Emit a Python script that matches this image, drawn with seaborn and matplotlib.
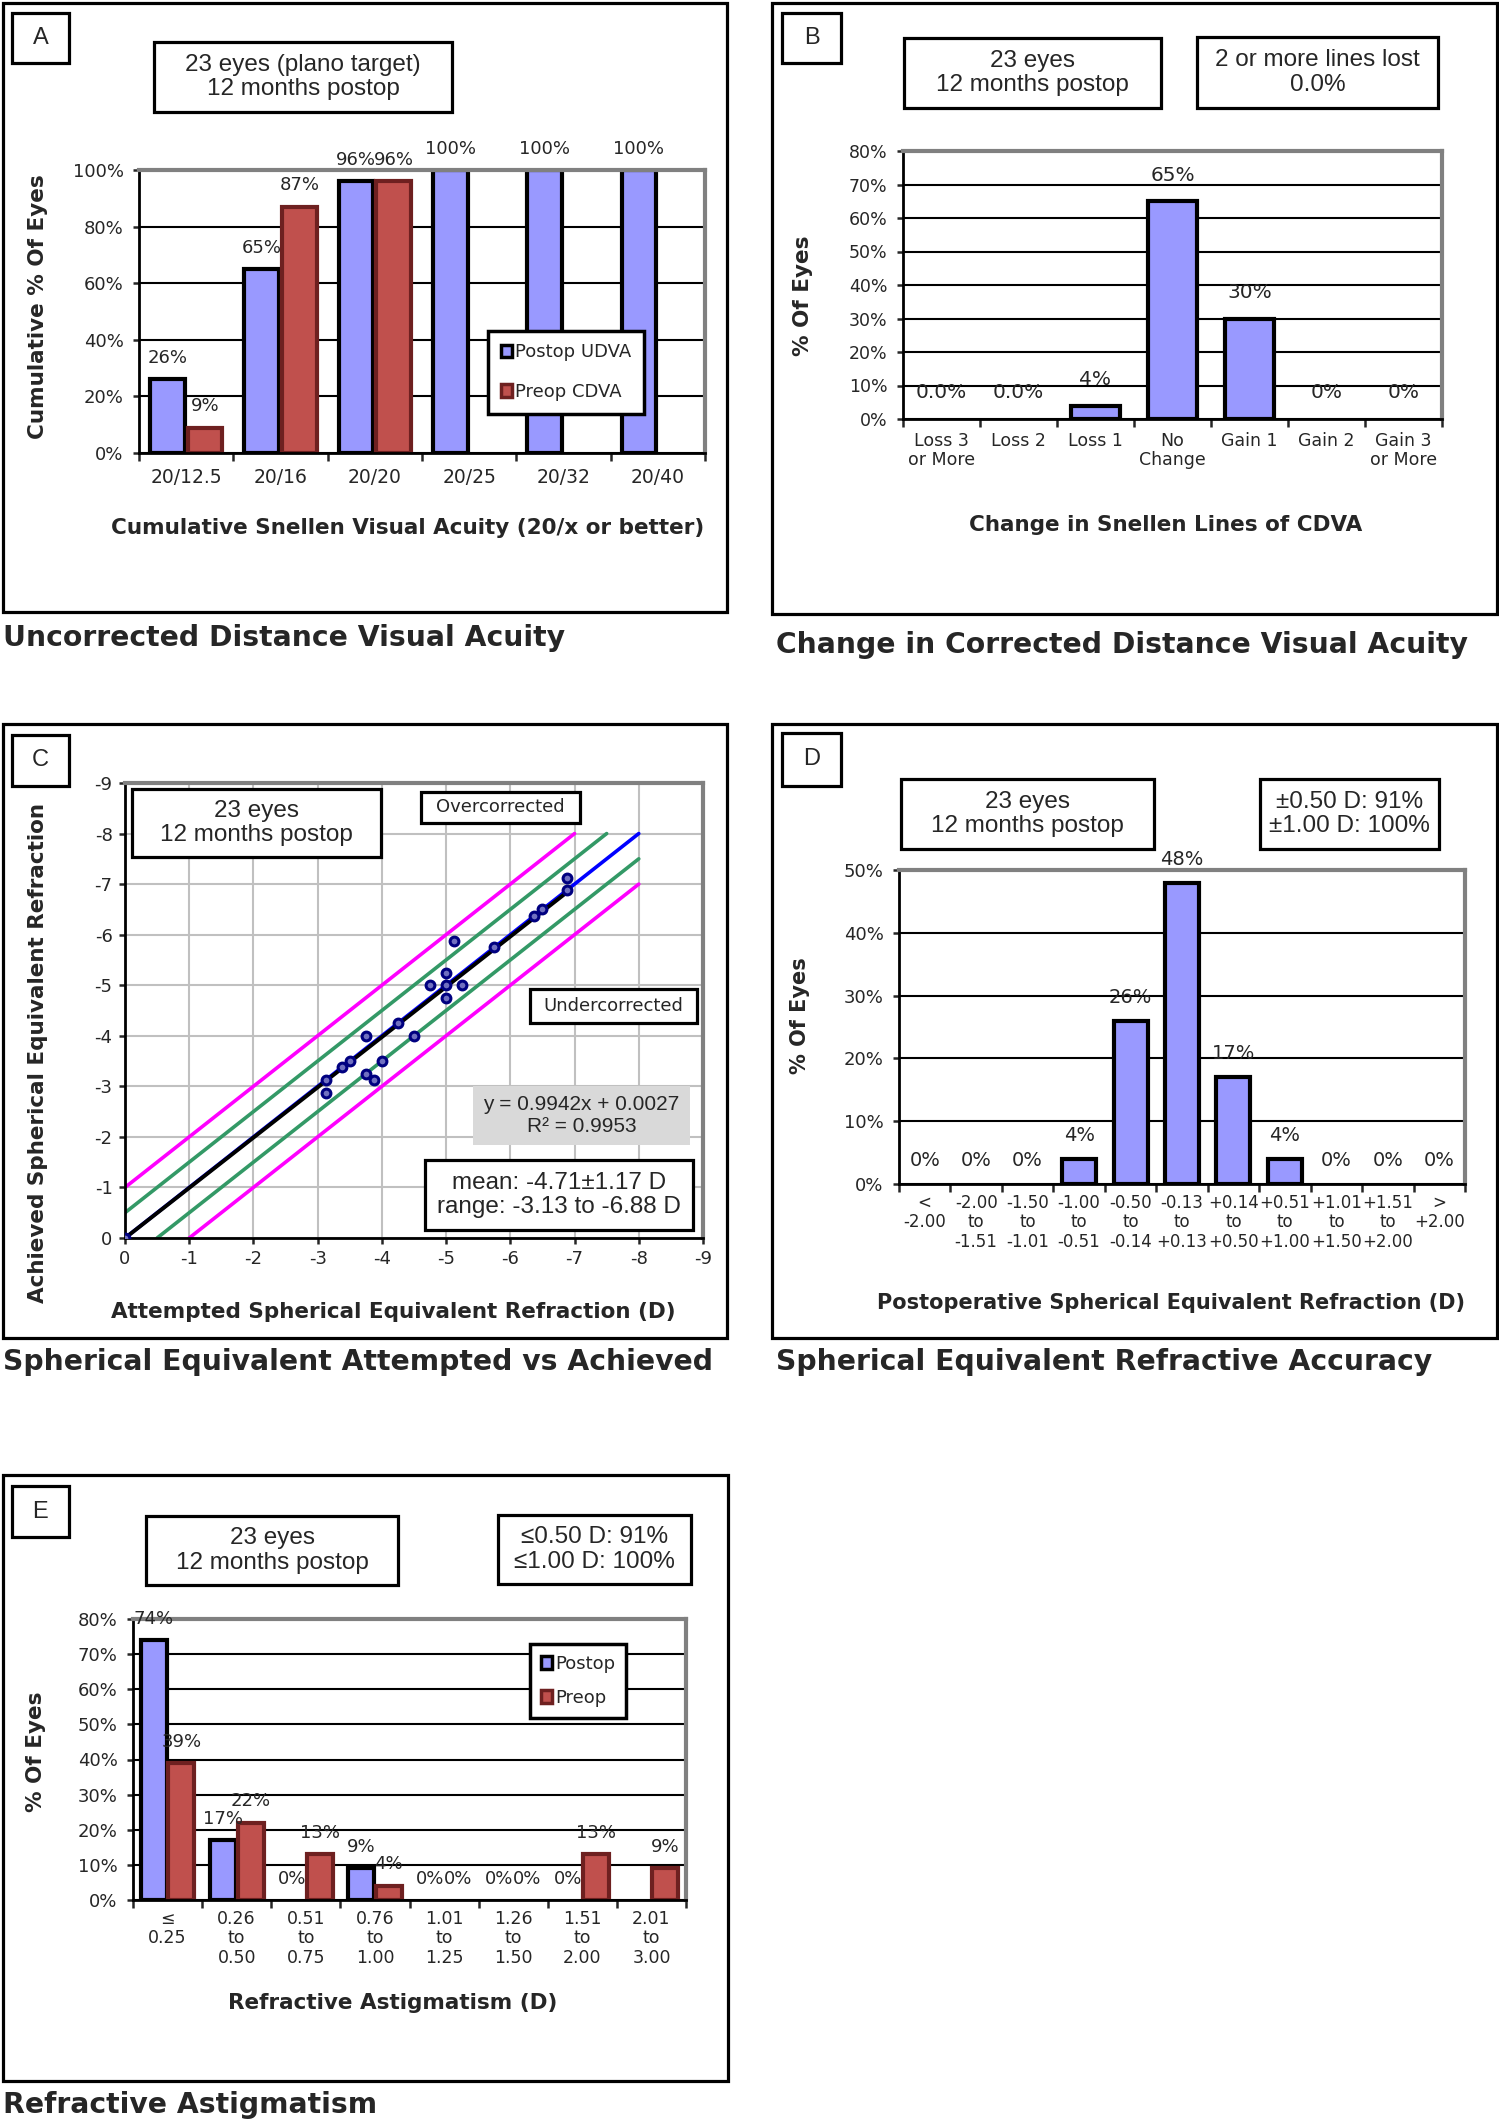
import numpy as np
import pandas as pd
import matplotlib
matplotlib.use("Agg")
import matplotlib.pyplot as plt
from matplotlib.patches import Rectangle, Patch
from matplotlib.ticker import FixedLocator, PercentFormatter
import seaborn as sns

W, H = 1499, 2128

# A: cumulative UDVA / CDVA
snellen = ['20/12.5', '20/16', '20/20', '20/25', '20/32', '20/40']
postop_udva = [26, 65, 96, 100, 100, 100]
preop_cdva = [9, 87, 96, np.nan, np.nan, np.nan]

# B: change in lines of CDVA
lines_cat = ['Loss 3\nor More', 'Loss 2', 'Loss 1', 'No\nChange', 'Gain 1', 'Gain 2', 'Gain 3\nor More']
lines_pct = [0, 0, 4, 65, 30, 0, 0]
lines_lbl = ['0.0%', '0.0%', '4%', '65%', '30%', '0%', '0%']

# C: attempted vs achieved SE (D)
attempted = [0, -3.125, -3.125, -3.375, -3.5, -3.75, -3.75, -3.875, -4.0, -4.25, -4.5,
             -4.75, -5.0, -5.0, -5.0, -5.125, -5.25, -5.75, -6.375, -6.5, -6.875, -6.875]
achieved = [0, -3.125, -2.875, -3.375, -3.5, -4.0, -3.25, -3.125, -3.5, -4.25, -4.0,
            -5.0, -5.25, -5.0, -4.75, -5.875, -5.0, -5.75, -6.375, -6.5, -7.125, -6.875]
fit_slope, fit_icpt = 0.9942, 0.0027
fit_range = [0, -6.9]

# D: postop SE accuracy
se_cat = ['<\n-2.00', '-2.00\nto\n-1.51', '-1.50\nto\n-1.01', '-1.00\nto\n-0.51', '-0.50\nto\n-0.14',
          '-0.13\nto\n+0.13', '+0.14\nto\n+0.50', '+0.51\nto\n+1.00', '+1.01\nto\n+1.50',
          '+1.51\nto\n+2.00', '>\n+2.00']
se_pct = [0, 0, 0, 4, 26, 48, 17, 4, 0, 0, 0]

# E: refractive astigmatism
cyl_cat = ['≤\n0.25', '0.26\nto\n0.50', '0.51\nto\n0.75', '0.76\nto\n1.00', '1.01\nto\n1.25',
           '1.26\nto\n1.50', '1.51\nto\n2.00', '2.01\nto\n3.00']
cyl_postop = [74, 17, 0, 9, 0, 0, 0, np.nan]
cyl_preop = [39, 22, 13, 4, 0, 0, 13, 9]

BLUE = '#9999FF'
RED = '#C0504D'
DARKRED = '#6E2020'
GRAYSPINE = '#808080'

sns.set_style('white')
plt.rcParams['font.family'] = ['DejaVu Sans']
plt.rcParams['axes.unicode_minus'] = False

fig = plt.figure(figsize=(W / 100, H / 100), dpi=100)


def add_ax(x0, y0, x1, y1):
    return fig.add_axes([x0 / W, 1 - y1 / H, (x1 - x0) / W, (y1 - y0) / H])


def box(x0, y0, x1, y1, lw=2.3, fc='none', ec='black'):
    fig.patches.append(Rectangle((x0 / W, 1 - y1 / H), (x1 - x0) / W, (y1 - y0) / H,
                                 transform=fig.transFigure, facecolor=fc, edgecolor=ec,
                                 linewidth=lw, zorder=2))


def boxed_text(x0, y0, x1, y1, text, size=17.5, family='Liberation Sans', fc='white', lw=2.3):
    box(x0, y0, x1, y1, lw=lw, fc=fc, ec='black' if lw else 'none')
    fig.text((x0 + x1) / 2 / W, 1 - (y0 + y1) / 2 / H, text, ha='center', va='center',
             fontsize=size, family=family, linespacing=1.15, zorder=3)


def caption(x, y, text):
    fig.text(x / W, 1 - y / H, text, ha='left', va='center', fontsize=20.3, fontweight='bold')


def style_bars(ax, n, ymax, step, xsize, ysize, xpad):
    ax.set_xlim(-0.5, n - 0.5)
    ax.set_ylim(0, ymax)
    ax.set_yticks(np.arange(0, ymax + 1, step))
    ax.yaxis.set_major_formatter(PercentFormatter(decimals=0))
    ax.grid(axis='y', color='black', lw=1.5)
    ax.grid(axis='x', visible=False)
    ax.set_axisbelow(True)
    for s in ['top', 'right']:
        ax.spines[s].set_color(GRAYSPINE)
        ax.spines[s].set_linewidth(3)
    for s in ['left', 'bottom']:
        ax.spines[s].set_color('black')
        ax.spines[s].set_linewidth(2)
    ax.xaxis.set_minor_locator(FixedLocator(np.arange(-0.5, n, 1)))
    ax.tick_params(axis='x', which='major', length=0, pad=xpad, labelsize=xsize)
    ax.tick_params(axis='x', which='minor', length=6, width=1.8, direction='out', bottom=True)
    ax.tick_params(axis='y', length=4, width=1.8, direction='out', left=True, pad=7, labelsize=ysize)
    for t in ax.get_xticklabels():
        t.set_linespacing(1.1)


def label_bars(ax, container, pad, size=13, labels=None):
    pats = list(container.patches)
    if labels is None:
        labels = [f'{p.get_height():.0f}%' for p in pats]
    for p, lab in zip(pats, labels):
        h = p.get_height()
        if np.isnan(h):
            continue
        if h == 0:
            p.set_linewidth(0)
        ax.annotate(lab, (p.get_x() + p.get_width() / 2, h), xytext=(0, pad),
                    textcoords='offset points', ha='center', va='bottom',
                    fontsize=size, annotation_clip=False)


def set_labels(ax, xlabel, ylabel, xpos, ypos, size=15.5):
    ax.set_xlabel(xlabel, fontsize=size, fontweight='bold', va='center')
    ax.set_ylabel(ylabel, fontsize=size, fontweight='bold', va='center')
    ax.xaxis.set_label_coords(*xpos)
    ax.yaxis.set_label_coords(*ypos)


def panel_a():
    box(3, 3, 727, 612)
    boxed_text(12, 13, 69, 63, 'A', size=17)
    boxed_text(154, 42, 452, 112, '23 eyes (plano target)\n12 months postop')
    ax = add_ax(139, 170, 705, 453)
    df = pd.DataFrame({'acuity': snellen * 2,
                       'pct': postop_udva + preop_cdva,
                       'series': ['Postop UDVA'] * len(snellen) + ['Preop CDVA'] * len(snellen)})
    sns.barplot(data=df, x='acuity', y='pct', hue='series', order=snellen,
                palette=[BLUE, RED], saturation=1, width=0.8, gap=0.08, errorbar=None,
                legend=False, edgecolor='black', linewidth=3, ax=ax)
    for p in ax.containers[1].patches:
        p.set_edgecolor(DARKRED)
    style_bars(ax, len(snellen), 100, 20, 13.5, 13, 11)
    label_bars(ax, ax.containers[0], 9)
    label_bars(ax, ax.containers[1], 9)
    handles = [Patch(fc=BLUE, ec='black', lw=2.5), Patch(fc=RED, ec=DARKRED, lw=2.5)]
    leg = ax.legend(handles, ['Postop UDVA', 'Preop CDVA'], loc='upper left',
                    bbox_to_anchor=(0.617, 0.432), fontsize=13, frameon=True, fancybox=False,
                    framealpha=1, edgecolor='black', handlelength=0.6, handleheight=0.7,
                    handletextpad=0.2, labelspacing=1.2, borderpad=0.7, borderaxespad=0)
    leg.get_frame().set_linewidth(2.5)
    set_labels(ax, 'Cumulative Snellen Visual Acuity (20/x or better)', 'Cumulative % Of Eyes',
               (0.475, -0.265), (-0.178, 0.516))
    caption(3, 638, 'Uncorrected Distance Visual Acuity')


def panel_b():
    box(772, 3, 1497, 614)
    boxed_text(782, 13, 841, 63, 'B', size=17)
    boxed_text(904, 38, 1161, 108, '23 eyes\n12 months postop')
    boxed_text(1197, 37, 1438, 108, '2 or more lines lost\n0.0%')
    ax = add_ax(903, 151, 1442, 419)
    df = pd.DataFrame({'change': lines_cat, 'pct': lines_pct})
    sns.barplot(data=df, x='change', y='pct', order=lines_cat, color=BLUE, saturation=1,
                width=0.64, errorbar=None, edgecolor='black', linewidth=3, ax=ax)
    style_bars(ax, len(lines_cat), 80, 10, 12.5, 12.5, 9)
    label_bars(ax, ax.containers[0], 12, size=14.5, labels=lines_lbl)
    set_labels(ax, 'Change in Snellen Lines of CDVA', '% Of Eyes',
               (0.488, -0.396), (-0.186, 0.459))
    caption(776, 645, 'Change in Corrected Distance Visual Acuity')


def panel_c():
    box(3, 724, 727, 1338)
    boxed_text(12, 735, 69, 786, 'C', size=17)
    ax = add_ax(125, 783, 703, 1238)
    ref_lines = [  # (x start, x end, offset, colour)
        (0, -7, -1, '#FF00FF'), (-1, -8, 1, '#FF00FF'),
        (0, -7.5, -0.5, '#339966'), (-0.5, -8, 0.5, '#339966'),
        (0, -8, 0, '#0000FF')]
    for xa, xb, off, col in ref_lines:
        sns.lineplot(x=[xa, xb], y=[xa + off, xb + off], color=col, lw=2.6, ax=ax)
    fx = np.array(fit_range)
    sns.lineplot(x=fx, y=fit_slope * fx + fit_icpt, color='black', lw=2.8, ax=ax)
    df = pd.DataFrame({'attempted': attempted, 'achieved': achieved})
    sns.scatterplot(data=df, x='attempted', y='achieved', marker='o', s=40,
                    facecolor='#7070C0', edgecolor='#000080', linewidth=2.2, zorder=5, ax=ax)
    ax.set_xlim(0, -9)
    ax.set_ylim(0, -9)
    ax.set_xticks(np.arange(0, -10, -1))
    ax.set_yticks(np.arange(0, -10, -1))
    ax.grid(True, color='#C0C0C0', lw=1.5)
    for s in ['top', 'right']:
        ax.spines[s].set_color(GRAYSPINE)
        ax.spines[s].set_linewidth(3)
    for s in ['left', 'bottom']:
        ax.spines[s].set_color('black')
        ax.spines[s].set_linewidth(2)
    ax.tick_params(length=4, width=1.8, direction='out', bottom=True, left=True, labelsize=13, pad=5)
    set_labels(ax, 'Attempted Spherical Equivalent Refraction (D)', 'Achieved Spherical Equivalent Refraction',
               (0.464, -0.163), (-0.15, 0.407))
    boxed_text(132, 789, 381, 857, '23 eyes\n12 months postop')
    boxed_text(421, 792, 580, 823, 'Overcorrected', size=13, family='DejaVu Sans')
    boxed_text(530, 989, 697, 1023, 'Undercorrected', size=13, family='DejaVu Sans')
    boxed_text(473, 1086, 690, 1145, f'y = {fit_slope}x + {fit_icpt}\nR² = 0.9953', size=15,
               fc='#D9D9D9', lw=0)
    boxed_text(425, 1160, 693, 1230, 'mean: -4.71±1.17 D\nrange: -3.13 to -6.88 D', size=17.5)
    caption(3, 1362, 'Spherical Equivalent Attempted vs Achieved')


def panel_d():
    box(772, 724, 1497, 1338)
    boxed_text(782, 733, 841, 786, 'D', size=17)
    boxed_text(901, 779, 1154, 849, '23 eyes\n12 months postop')
    boxed_text(1260, 779, 1439, 849, '±0.50 D: 91%\n±1.00 D: 100%')
    ax = add_ax(899, 870, 1465, 1184)
    df = pd.DataFrame({'se': se_cat, 'pct': se_pct})
    sns.barplot(data=df, x='se', y='pct', order=se_cat, color=BLUE, saturation=1,
                width=0.66, errorbar=None, edgecolor='black', linewidth=3, ax=ax)
    style_bars(ax, len(se_cat), 50, 10, 12, 13, 7)
    label_bars(ax, ax.containers[0], 10, size=14)
    set_labels(ax, 'Postoperative Spherical Equivalent Refraction (D)', '% Of Eyes',
               (0.481, -0.379), (-0.175, 0.535), size=15)
    caption(776, 1362, 'Spherical Equivalent Refractive Accuracy')


def panel_e():
    box(3, 1475, 728, 2081)
    boxed_text(12, 1486, 69, 1537, 'E', size=17)
    boxed_text(146, 1516, 398, 1585, '23 eyes\n12 months postop')
    boxed_text(498, 1515, 691, 1584, '≤0.50 D: 91%\n≤1.00 D: 100%')
    ax = add_ax(133, 1619, 686, 1900)
    df = pd.DataFrame({'cyl': cyl_cat * 2,
                       'pct': cyl_postop + cyl_preop,
                       'series': ['Postop'] * len(cyl_cat) + ['Preop'] * len(cyl_cat)})
    sns.barplot(data=df, x='cyl', y='pct', hue='series', order=cyl_cat,
                palette=[BLUE, RED], saturation=1, width=0.8, gap=0.06, errorbar=None,
                legend=False, edgecolor='black', linewidth=3, ax=ax)
    for p in ax.containers[1].patches:
        p.set_edgecolor(DARKRED)
    style_bars(ax, len(cyl_cat), 80, 10, 12.5, 13, 7)
    label_bars(ax, ax.containers[0], 9)
    label_bars(ax, ax.containers[1], 9)
    handles = [Patch(fc=BLUE, ec='black', lw=2.5), Patch(fc=RED, ec=DARKRED, lw=2.5)]
    leg = ax.legend(handles, ['Postop', 'Preop'], loc='upper left',
                    bbox_to_anchor=(0.718, 0.911), fontsize=13, frameon=True, fancybox=False,
                    framealpha=1, edgecolor='black', handlelength=0.6, handleheight=0.7,
                    handletextpad=0.2, labelspacing=0.9, borderpad=0.6, borderaxespad=0)
    leg.get_frame().set_linewidth(2.5)
    set_labels(ax, 'Refractive Astigmatism (D)', '% Of Eyes',
               (0.47, -0.367), (-0.175, 0.527))
    caption(3, 2105, 'Refractive Astigmatism')


panel_a()
panel_b()
panel_c()
panel_d()
panel_e()

fig.savefig('out.png', dpi=100, facecolor='white')
